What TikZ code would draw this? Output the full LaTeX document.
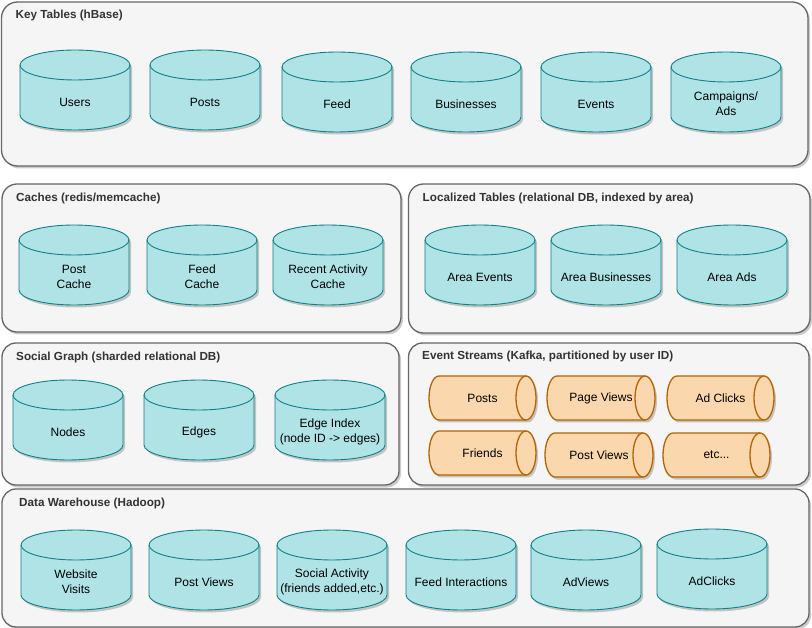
\documentclass[tikz,border=0pt]{standalone}
\usepackage{fontspec}
\setmainfont{Liberation Sans}
\usetikzlibrary{shadows}
\definecolor{cylfillc}{HTML}{B0E3E6}
\definecolor{cyllinec}{HTML}{0E8088}
\definecolor{orfillc}{HTML}{FAD7AC}
\definecolor{orlinec}{HTML}{B46504}
\definecolor{boxfillc}{HTML}{F5F5F5}
\definecolor{boxlinec}{HTML}{666666}
\definecolor{titlec}{HTML}{333333}
\tikzset{
  shd/.style={drop shadow={shadow xshift=2pt,shadow yshift=-2.5pt,fill=black,opacity=0.2}},
  groupbox/.style={draw=boxlinec,fill=boxfillc,line width=1.3pt,shd},
  grouptitle/.style={anchor=base west,inner sep=0pt,text=titlec,font=\fontsize{11.7}{14}\selectfont\bfseries},
  cylbody/.style={draw=cyllinec,fill=cylfillc,line width=0.9pt,shd},
  cylrim/.style={draw=cyllinec,line width=0.9pt},
  tubebody/.style={draw=orlinec,fill=orfillc,line width=1.3pt,shd},
  tuberim/.style={draw=orlinec,line width=1.3pt},
  cyllabel/.style={align=center,inner sep=0pt,text=black,font=\fontsize{12}{15}\selectfont},
}
% vertical database cylinder: name, left x, top y, label
\newcommand\dbcyl[4]{%
  \path[cylbody] (#2,-#3-15) -- (#2,-#3-65) arc (180:360:55 and 15) -- (#2+110,-#3-15) arc (0:180:55 and 15) -- cycle;
  \draw[cylrim] (#2,-#3-15) arc (180:360:55 and 15);
  \node[cyllabel] (#1) at (#2+55,-#3-52) {#4};
}
% horizontal stream tube: name, x0, y0, x1, label (height 44)
\newcommand\streamtube[5]{%
  \path[tubebody] (#2+10,-#3) -- (#4-10,-#3) arc (90:-90:10 and 22) -- (#2+10,-#3-44) arc (270:90:10 and 22) -- cycle;
  \draw[tuberim] (#4-10,-#3) arc (90:270:10 and 22);
  \node[cyllabel] (#1) at ({(#2+#4)/2},{-#3-22}) {#5};
}
\begin{document}
\begin{tikzpicture}[x=1pt,y=1pt]
\fill[white] (0,0) rectangle (812,-628);
\useasboundingbox (0,0) rectangle (812,-628);

% containers
\path[groupbox,rounded corners=16pt] (1.5,-2) rectangle (808,-166);
\path[groupbox,rounded corners=15pt] (2,-184) rectangle (401,-332);
\path[groupbox,rounded corners=15pt] (408.5,-184) rectangle (810,-333);
\path[groupbox,rounded corners=14pt] (2,-343) rectangle (399,-485);
\path[groupbox,rounded corners=14pt] (408.5,-343) rectangle (809,-485);
\path[groupbox,rounded corners=14pt] (2,-489) rectangle (809,-627);

% titles
\node[grouptitle] (tkt) at (15.5,-19) {Key Tables (hBase)};
\node[grouptitle] (tca) at (16,-202) {Caches (redis/memcache)};
\node[grouptitle] (tlo) at (422.5,-202) {Localized Tables (relational DB, indexed by area)};
\node[grouptitle] (tsg) at (16,-360.5) {Social Graph (sharded relational DB)};
\node[grouptitle] (tes) at (422,-360) {Event Streams (Kafka, partitioned by user ID)};
\node[grouptitle] (tdw) at (19,-506.5) {Data Warehouse (Hadoop)};

% key tables
\dbcyl{users}{20}{50}{Users}
\dbcyl{posts}{150}{50}{Posts}
\dbcyl{feed}{282}{52}{Feed}
\dbcyl{biz}{411}{52}{Businesses}
\dbcyl{events}{541}{52}{Events}
\dbcyl{camp}{671}{52}{Campaigns/\\Ads}

% caches
\dbcyl{pcache}{19}{225}{Post\\Cache}
\dbcyl{fcache}{147}{225}{Feed\\Cache}
\dbcyl{rcache}{273}{225}{Recent Activity\\Cache}

% localized
\dbcyl{aevents}{425}{225}{Area Events}
\dbcyl{abiz}{551}{225}{Area Businesses}
\dbcyl{aads}{677}{225}{Area Ads}

% social graph
\dbcyl{nodes}{13}{380}{Nodes}
\dbcyl{edges}{144}{380}{Edges}
\dbcyl{eindex}{275}{380}{Edge Index\\(node ID -> edges)}

% event streams
\streamtube{sposts}{429}{376}{536}{Posts}
\streamtube{spviews}{547}{376}{655}{Page Views}
\streamtube{sadclicks}{667}{376}{774}{Ad Clicks}
\streamtube{sfriends}{429}{431}{536}{Friends}
\streamtube{spostviews}{545}{433}{653}{Post Views}
\streamtube{setc}{663}{433}{770}{etc...}

% data warehouse
\dbcyl{wvisits}{21}{530}{Website\\Visits}
\dbcyl{dpviews}{149}{530}{Post Views}
\dbcyl{social}{277}{530}{Social Activity\\(friends added,etc.)}
\dbcyl{finter}{406}{530}{Feed Interactions}
\dbcyl{adviews}{531}{530}{AdViews}
\dbcyl{adclicks}{657}{529}{AdClicks}
\end{tikzpicture}
\end{document}
